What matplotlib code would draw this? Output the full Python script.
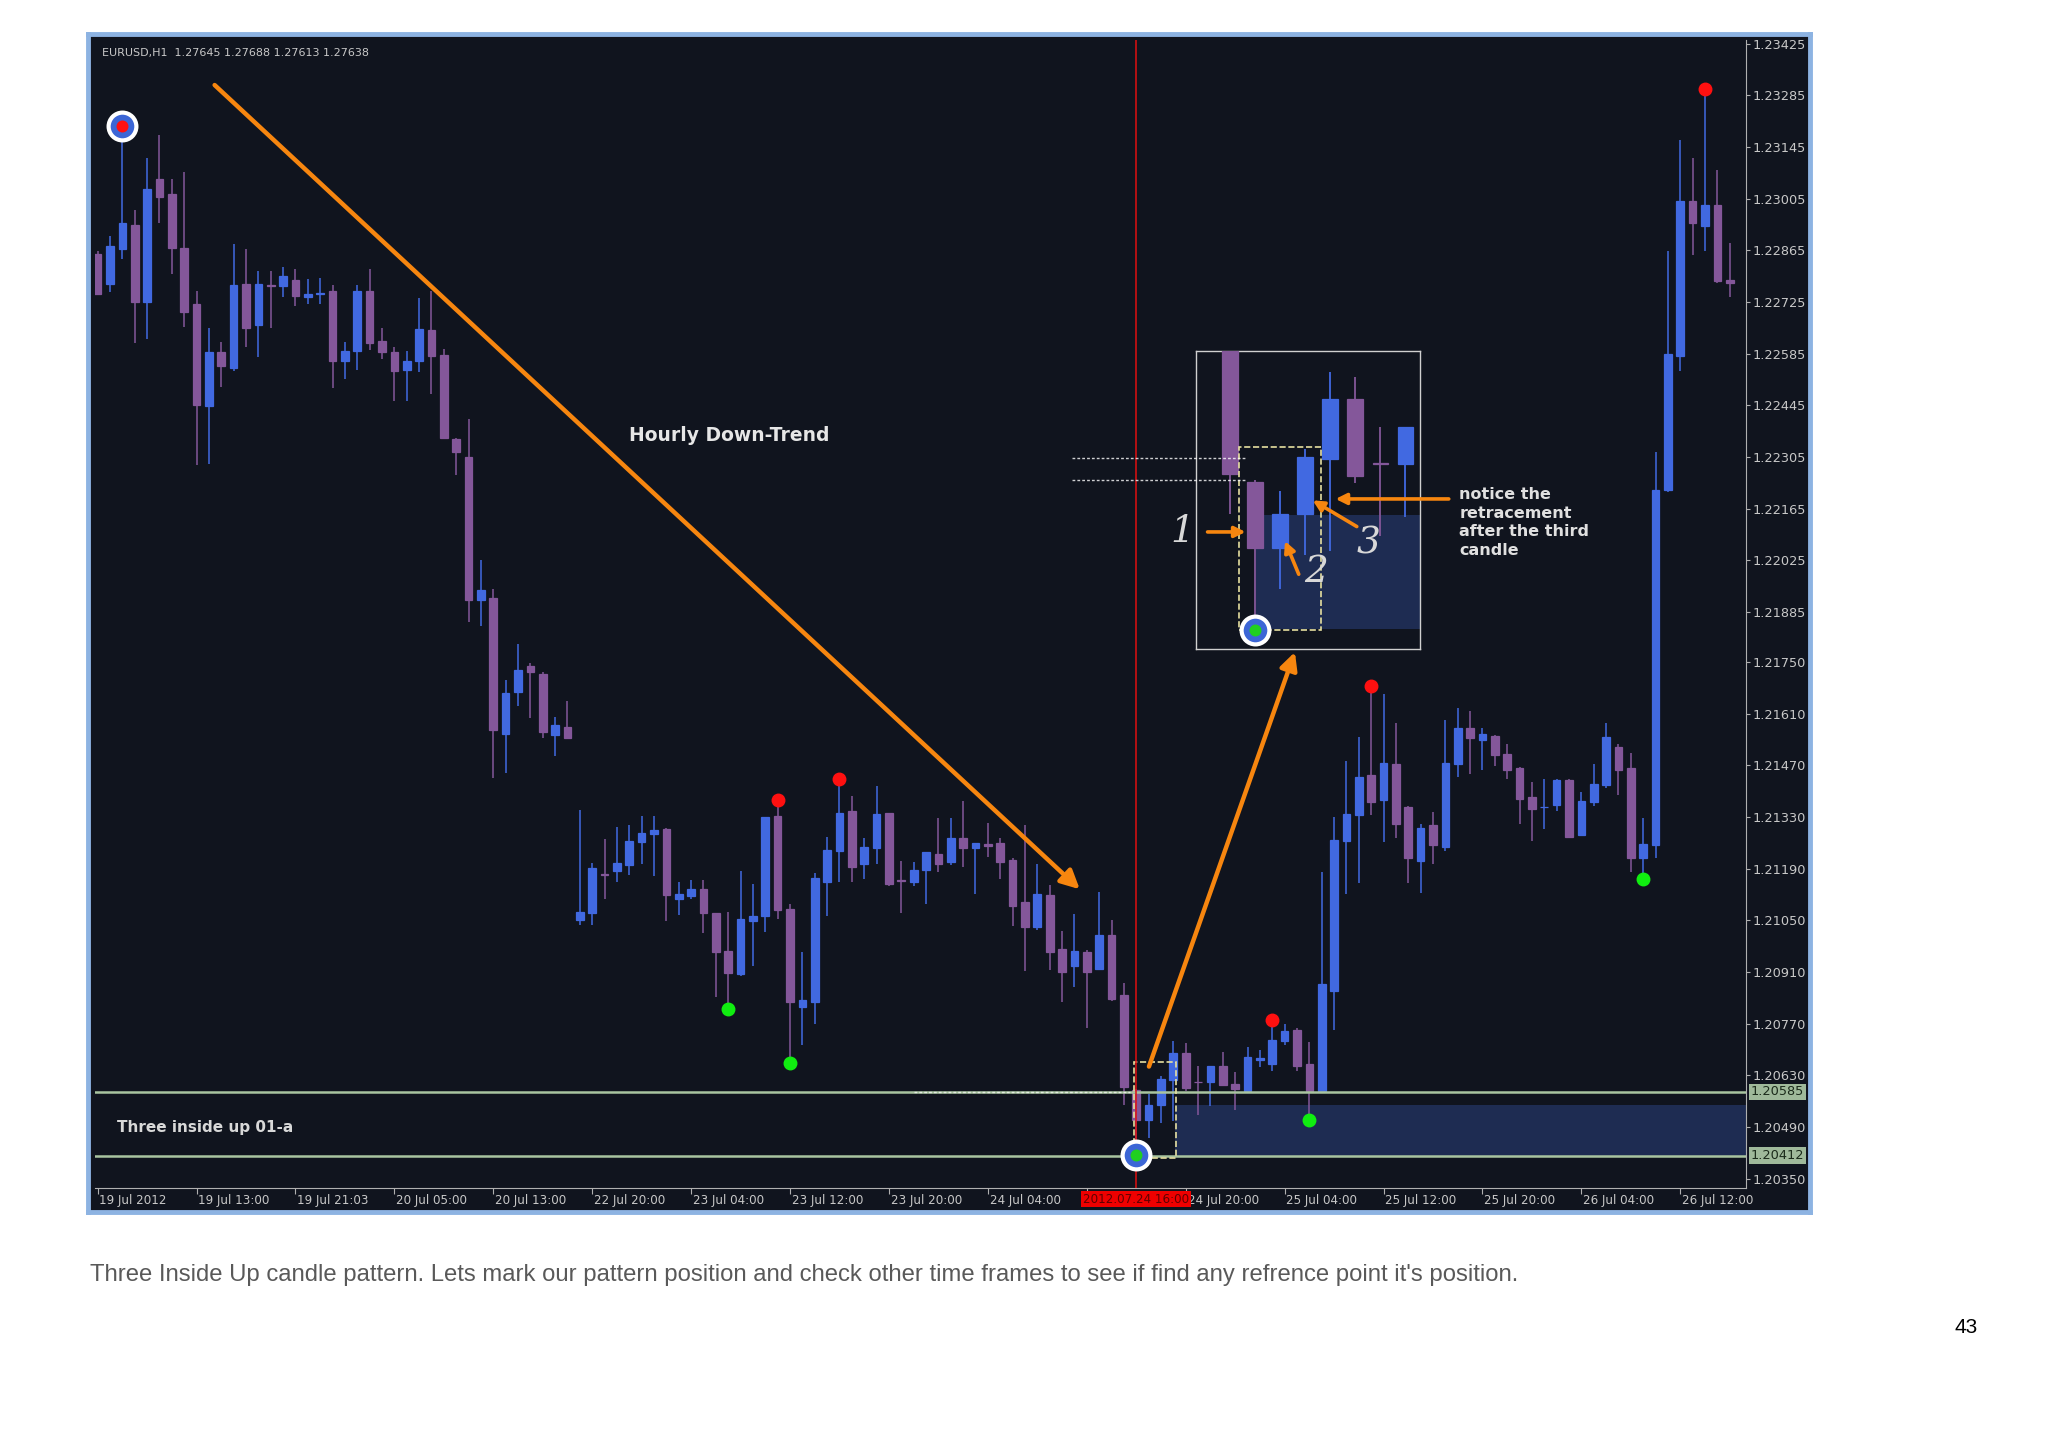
import matplotlib
matplotlib.use("Agg")
import matplotlib.pyplot as plt
import matplotlib.patches as mpatches
import matplotlib.transforms as mtrans
import numpy as np

# ---------------- data ----------------
opens = [1.22855,1.22775,1.22868,1.22935,1.22726,1.23057,1.23018,1.22871,1.22719,1.22443,1.22589,1.22546,1.22775,1.22662,1.22771,1.22768,1.22786,1.22738,1.22747,1.22755,1.22565,1.22592,1.22755,1.22619,1.22589,1.22540,1.22566,1.22649,1.22582,1.22353,1.22306,1.21917,1.21924,1.21555,1.21668,1.21738,1.21718,1.21551,1.21575,
 1.21051,1.21069,1.21176,1.21184,1.21199,1.21263,1.21284,1.21297,1.21108,1.21115,1.21135,1.21069,1.20967,1.20905,1.21049,1.21062,1.21332,1.21082,1.20814,1.20830,1.21154,1.21238,1.21345,1.21204,1.21245,1.21341,1.21160,1.21154,1.21186,1.21231,1.21207,1.21274,1.21247,1.21256,1.21259,1.21213,1.21099,1.21033,1.21119,1.20973,1.20927,1.20964,1.20918,1.21009,1.20848,1.20590,1.20510,1.20551,1.20617,1.20690,1.20613,1.20611,1.20656,1.20606,1.20588,1.20673,
 1.20661,1.20724,1.20754,1.20661,1.20588,1.20858,1.21265,1.21336,1.21444,1.21375,1.21473,1.21357,1.21211,1.21307,1.21250,1.21473,1.21571,1.21539,1.21549,1.21500,1.21463,1.21383,1.21356,1.21363,1.21429,1.21282,1.21370,1.21416,1.21520,1.21463,1.21220,1.21254,1.22215,1.22578,1.23000,1.22932,1.22988,1.22786]
highs = [1.22862,1.22904,1.23203,1.22975,1.23114,1.23178,1.23057,1.23077,1.22755,1.22655,1.22618,1.22882,1.22868,1.22808,1.22808,1.22819,1.22815,1.22788,1.22791,1.22772,1.22618,1.22771,1.22815,1.22655,1.22602,1.22593,1.22735,1.22755,1.22598,1.22356,1.22407,1.22026,1.21948,1.21702,1.21798,1.21748,1.21724,1.21602,1.21645,
 1.21350,1.21206,1.21270,1.21304,1.21309,1.21332,1.21332,1.21300,1.21154,1.21160,1.21160,1.21069,1.21073,1.21183,1.21149,1.21329,1.21359,1.21094,1.20964,1.21177,1.21277,1.21418,1.21386,1.21272,1.21414,1.21341,1.21210,1.21208,1.21236,1.21327,1.21327,1.21373,1.21259,1.21313,1.21274,1.21219,1.21309,1.21204,1.21145,1.21021,1.21067,1.20971,1.21126,1.21051,1.20880,1.20592,1.20579,1.20629,1.20723,1.20717,1.20656,1.20656,1.20693,1.20638,1.20708,1.20699,
 1.20764,1.20770,1.20759,1.20720,1.21181,1.21331,1.21483,1.21546,1.21670,1.21664,1.21585,1.21360,1.21311,1.21344,1.21592,1.21624,1.21618,1.21571,1.21551,1.21527,1.21465,1.21424,1.21432,1.21432,1.21432,1.21399,1.21473,1.21585,1.21527,1.21504,1.21326,1.22319,1.22863,1.23164,1.23115,1.23285,1.23083,1.22884]
lows = [1.22745,1.22752,1.22842,1.22615,1.22625,1.22939,1.22802,1.22658,1.22283,1.22287,1.22496,1.22538,1.22602,1.22576,1.22655,1.22739,1.22713,1.22719,1.22719,1.22492,1.22516,1.22542,1.22596,1.22572,1.22458,1.22456,1.22536,1.22476,1.22353,1.22256,1.21857,1.21847,1.21436,1.21448,1.21631,1.21598,1.21545,1.21494,1.21542,
 1.21037,1.21037,1.21108,1.21154,1.21174,1.21204,1.21169,1.21049,1.21065,1.21108,1.21017,1.20843,1.20825,1.20898,1.20927,1.21019,1.21053,1.20679,1.20711,1.20770,1.21062,1.21154,1.21154,1.21163,1.21204,1.21142,1.21069,1.21143,1.21094,1.21181,1.21199,1.21195,1.21122,1.21222,1.21163,1.21035,1.20912,1.21024,1.20916,1.20830,1.20869,1.20759,1.20916,1.20832,1.20551,1.20415,1.20460,1.20501,1.20506,1.20588,1.20524,1.20547,1.20601,1.20535,1.20583,1.20652,
 1.20643,1.20712,1.20641,1.20524,1.20585,1.20754,1.21121,1.21150,1.21336,1.21263,1.21272,1.21152,1.21123,1.21204,1.21238,1.21439,1.21446,1.21458,1.21468,1.21434,1.21311,1.21265,1.21297,1.21346,1.21274,1.21279,1.21360,1.21409,1.21390,1.21181,1.21179,1.21219,1.22210,1.22537,1.22853,1.22863,1.22776,1.22740]
closes = [1.22748,1.22877,1.22939,1.22726,1.23032,1.23010,1.22872,1.22699,1.22447,1.22589,1.22553,1.22771,1.22655,1.22775,1.22768,1.22795,1.22742,1.22748,1.22750,1.22565,1.22593,1.22755,1.22615,1.22589,1.22538,1.22566,1.22653,1.22578,1.22356,1.22319,1.21917,1.21946,1.21567,1.21667,1.21728,1.21724,1.21561,1.21578,1.21545,
 1.21073,1.21192,1.21172,1.21206,1.21266,1.21286,1.21295,1.21119,1.21122,1.21135,1.21069,1.20964,1.20907,1.21055,1.21062,1.21329,1.21079,1.20830,1.20834,1.21165,1.21240,1.21341,1.21195,1.21250,1.21338,1.21149,1.21156,1.21186,1.21234,1.21204,1.21274,1.21247,1.21259,1.21252,1.21208,1.21090,1.21033,1.21122,1.20964,1.20909,1.20968,1.20909,1.21009,1.20836,1.20599,1.20510,1.20551,1.20620,1.20690,1.20597,1.20611,1.20656,1.20604,1.20592,1.20679,1.20676,
 1.20726,1.20751,1.20656,1.20588,1.20878,1.21269,1.21338,1.21439,1.21370,1.21475,1.21311,1.21218,1.21299,1.21253,1.21475,1.21571,1.21543,1.21556,1.21497,1.21458,1.21380,1.21351,1.21358,1.21429,1.21277,1.21373,1.21419,1.21546,1.21458,1.21220,1.21256,1.22215,1.22585,1.23000,1.22938,1.22988,1.22782,1.22776]

date_tick_bars = [0, 8, 16, 24, 32, 40, 48, 56, 64, 72, 88, 96, 104, 112, 120, 128]
date_tick_labels = ["19 Jul 2012", "19 Jul 13:00", "19 Jul 21:03", "20 Jul 05:00", "20 Jul 13:00",
                    "22 Jul 20:00", "23 Jul 04:00", "23 Jul 12:00", "23 Jul 20:00", "24 Jul 04:00",
                    "24 Jul 20:00", "25 Jul 04:00", "25 Jul 12:00", "25 Jul 20:00", "26 Jul 04:00", "26 Jul 12:00"]
price_ticks = [1.23425,1.23285,1.23145,1.23005,1.22865,1.22725,1.22585,1.22445,1.22305,1.22165,1.22025,
               1.21885,1.21750,1.21610,1.21470,1.21330,1.21190,1.21050,1.20910,1.20770,1.20630,1.20490,1.20350]
level_high = 1.20585
level_low = 1.20412
zone_top = 1.20550
signal_bar = 84
red_dot_bars = [55, 60, 95, 103, 130]
green_dot_bars = [51, 56, 98, 125]

# ---------------- style ----------------
BG = '#10141e'
BLUE = '#4169e1'
PURP = '#84579a'
ORANGE = '#f7860f'
TXT = '#c8c8c8'
ZONE = '#1e2c52'
LVL = '#a9c4a0'

W, H = 1552.0, 1097.0
def F(x, y):
    return (x / W, 1 - y / H)

fig = plt.figure(figsize=(20.48, 14.48), dpi=100, facecolor='white')

# dark frame with light-blue border (as a background axes)
bax = fig.add_axes([67 / W, 1 - 918 / H, 1305 / W, 892 / H], zorder=-5)
bax.set_facecolor(BG)
bax.set_xticks([]); bax.set_yticks([])
for s in bax.spines.values():
    s.set_color('#8db3e2'); s.set_linewidth(3.5)

ax = fig.add_axes([72 / W, 1 - 900 / H, (1323 - 72) / W, 870 / H], zorder=1)
ax.set_facecolor(BG)
n = len(opens)
O = np.array(opens); Hh = np.array(highs); L = np.array(lows); C = np.array(closes)

def draw_candles(a, idx, width=0.62, lw=1.1):
    for i in idx:
        col = BLUE if C[i] >= O[i] else PURP
        a.vlines(i, L[i], Hh[i], color=col, lw=lw, zorder=3)
        lo = min(O[i], C[i]); hgt = abs(C[i] - O[i])
        a.bar(i, hgt, width, bottom=lo, color=col, edgecolor=col, lw=0.9, zorder=4)

draw_candles(ax, range(n))

ax.set_xlim(-0.21, 133.3)
ax.set_ylim(1.20325, 1.23436)

# levels and zone
ax.axhline(level_high, color=LVL, lw=1.8, zorder=5)
ax.axhline(level_low, color=LVL, lw=1.8, zorder=5)
ax.add_patch(mpatches.Rectangle((87.1, level_low), 134 - 87.1, zone_top - level_low,
                                facecolor=ZONE, edgecolor='none', zorder=1))
ax.plot([66, 83.5], [level_high, level_high], ls=(0, (2, 1.5)), color='white', lw=1, alpha=0.7, zorder=6)
ax.add_patch(mpatches.Rectangle((83.8, 1.20407), 3.4, 0.00258, fill=False,
                                edgecolor='#e6e0a0', ls='--', lw=1.2, zorder=6))
ax.axvline(signal_bar, color='#e01010', lw=1.1, zorder=6)

# fractal dots
for b in red_dot_bars:
    ax.plot(b, Hh[b] + 0.00016, 'o', color='#ff1010', ms=9, zorder=7)
for b in green_dot_bars:
    ax.plot(b, L[b] - 0.00016, 'o', color='#10ee10', ms=9, zorder=7)

def ring(a, xx, yy, center, ms=20):
    a.plot(xx, yy, 'o', ms=ms, mfc='#3c66d6', mec='white', mew=3, zorder=9, clip_on=False)
    a.plot(xx, yy, 'o', ms=ms * 0.38, color=center, zorder=10, clip_on=False)

ring(ax, 2, Hh[2], '#ff1010')
ring(ax, signal_bar, L[signal_bar], '#20d020')

# trend line arrow
ax.annotate('', xy=(79.6, 1.21129), xytext=(9.3, 1.23318),
            arrowprops=dict(arrowstyle='-|>', color=ORANGE, lw=3.2, mutation_scale=28), zorder=8)

# axes styling
for s in ['top', 'left']:
    ax.spines[s].set_visible(False)
ax.spines['right'].set_color('#b0b0b0')
ax.spines['bottom'].set_color('#b0b0b0')
ax.yaxis.tick_right()
ax.set_yticks(price_ticks)
ax.set_yticklabels([f"{p:.5f}" for p in price_ticks])
ax.tick_params(axis='y', colors='#b0b0b0', labelcolor=TXT, labelsize=9.3, length=3, pad=2)
ax.set_xticks(date_tick_bars + [80])
ax.set_xticklabels([])
ax.tick_params(axis='x', colors='#b0b0b0', length=4)
tb = mtrans.blended_transform_factory(ax.transData, ax.transAxes)
for b, lab in zip(date_tick_bars, date_tick_labels):
    ax.text(b + 0.15, -0.005, lab, transform=tb, ha='left', va='top', fontsize=8.6, color=TXT)
ax.text(signal_bar, -0.004, "2012.07.24 16:00", transform=tb, ha='center', va='top', fontsize=8.6,
        color='#600000', bbox=dict(boxstyle='square,pad=0.15', fc='#ee0000', ec='none'), zorder=10)
ty = mtrans.blended_transform_factory(ax.transAxes, ax.transData)
for lv in [level_high, level_low]:
    ax.text(1.003, lv, f"{lv:.5f}", transform=ty, ha='left', va='center', fontsize=9.3, color='#1a2a1a',
            bbox=dict(boxstyle='square,pad=0.15', fc='#9fb99a', ec='none'), zorder=10)

# texts
fig.text(*F(77, 40), "EURUSD,H1  1.27645 1.27688 1.27613 1.27638", fontsize=8, color=TXT, va='center', zorder=20)
fig.text(*F(477, 330), "Hourly Down-Trend", fontsize=13.5, fontweight='bold', color='#e6e6e6', va='center', zorder=20)
fig.text(*F(89, 854), "Three inside up 01-a", fontsize=11, fontweight='bold', color='#d8d8d8', va='center', zorder=20)

# inset
iax = fig.add_axes([906 / W, 1 - 492 / H, 170 / W, 226 / H], zorder=2)
iax.set_facecolor(BG)
draw_candles(iax, range(82, 92), width=0.62, lw=1.3)
iax.set_xlim(81.63, 90.58)
iax.set_ylim(1.20387, 1.20748)
iax.add_patch(mpatches.Rectangle((84.05, level_low), 8, zone_top - level_low, facecolor=ZONE,
                                 edgecolor='none', zorder=1))
iax.add_patch(mpatches.Rectangle((83.35, 1.20410), 3.3, 0.00222, fill=False, edgecolor='#e6e0a0',
                                 ls='--', lw=1.2, zorder=6))
for lv in [1.20619, 1.20592]:
    iax.plot([76.7, 83.7], [lv, lv], ls=(0, (2, 1.5)), color='white', lw=1, alpha=0.8, clip_on=False, zorder=6)
ring(iax, signal_bar, 1.20410, '#20d020')
iax.set_xticks([]); iax.set_yticks([])
for s in iax.spines.values():
    s.set_color('#d0d0d0'); s.set_linewidth(1)

# pattern annotations (figure coordinates)
def farrow(p0, p1, lw=2.6, ms=16):
    fig.add_artist(mpatches.FancyArrowPatch(F(*p0), F(*p1), transform=fig.transFigure,
                   arrowstyle='-|>', color=ORANGE, lw=lw, mutation_scale=ms, zorder=12))

farrow((870, 810), (982, 492), lw=3.2, ms=26)
farrow((913, 403), (946, 403))
farrow((985, 437), (973, 408))
farrow((1030, 400), (993, 378))
farrow((1100, 378), (1010, 378))
for lab, px, py in [("1", 896, 403), ("2", 997, 433), ("3", 1037, 412)]:
    fig.text(*F(px, py), lab, fontsize=27, family='DejaVu Serif', style='italic', color='#d8d8d8',
             ha='center', va='center', zorder=13)
fig.text(*F(1106, 369), "notice the\nretracement\nafter the third\ncandle", fontsize=11.5,
         fontweight='bold', color='#e0e0e0', va='top', linespacing=1.3, zorder=20)

# caption and page number
fig.text(*F(68, 966), "Three Inside Up candle pattern. Lets mark our pattern position and check other time frames "
         "to see if find any refrence point it's position.", fontsize=17.2, color='#595959',
         family='Liberation Sans', va='center')
fig.text(*F(1490, 1006), "43", fontsize=15, color='black', family='Liberation Sans', ha='center', va='center')

fig.savefig('out.png', dpi=100, facecolor='white')
